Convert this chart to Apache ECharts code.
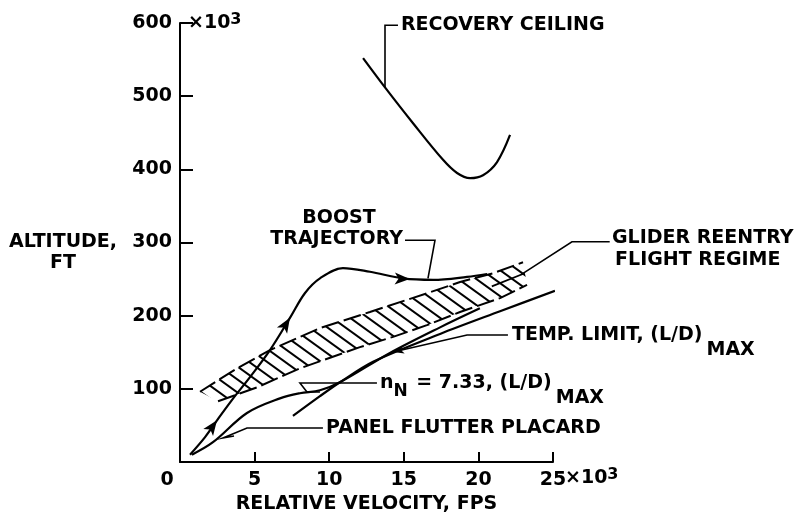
<!DOCTYPE html>
<html><head><meta charset="utf-8">
<script src="https://cdn.jsdelivr.net/npm/echarts@6/dist/echarts.min.js"></script>
<style>html,body{margin:0;padding:0;background:#fff}#c{width:808px;height:519px}</style>
</head><body><div id="c"></div>
<script>
// ---- data (x: relative velocity, 10^3 fps; y: altitude, 10^3 ft) ----
const xTicks = [0, 5, 10, 15, 20, 25];
const yTicks = [0, 100, 200, 300, 400, 500, 600];
const recoveryCeiling = [[12.27,552],[13.74,512],[15.62,463],[17.63,413],[18.57,395],[19.44,388],[20.31,392],[21.25,410],[22.12,447]];
const boostTrajectory = [[0.67,10],[1.68,34],[2.48,57],[3.49,85],[4.69,116],[6.03,153],[7.37,197],[8.38,231],[9.38,251],[10.92,265],[12.73,260],[14.95,251],[16.96,249],[19.24,253],[20.58,257]];
const boostArrows = [[2.48,57,-36],[7.37,197,-32],[15.4,250,-92]];
const nNCurve = [[0.8,10],[2.21,27],[4.49,67],[6.7,87],[8.04,94],[9.38,98],[10.72,109],[14.07,149],[17.43,184],[20.1,210]];
const tempLimit = [[7.57,63],[9.38,90],[10.72,109],[12.94,137],[17.43,175],[21.45,206],[25.13,234]];
const bandUpper = [[1.34,96],[3.82,128],[6.03,153],[9.38,183],[12.73,205],[16.76,232],[18.77,246],[20.98,258],[22.99,273]];
const bandLower = [[2.55,83],[5.16,102],[8.04,128],[12.06,157],[14.28,171],[16.55,187],[18.77,205],[21.45,224],[23.26,242]];
const bandCross = [[20.9,240],[23.1,258]];
// leader lines (annotation pointers)
const leaders = [
  [[13.74,512],[13.74,597],[14.61,597]],
  [[15.08,303],[17.09,303],[16.62,251]],
  [[28.8,301],[26.27,301],[22.86,256]],
  [[21.98,173.6],[19.24,173.6],[14.28,150.3]],
  [[13.2,108],[8.04,108],[8.51,95.7],[9.38,95.7]],
  [[9.58,46.5],[4.49,46.5],[2.88,32.8],[3.62,35.5]]
];
const tempArrow = [[14.28,150.3,103]];
// annotation texts: [x, y, text, align]
const annotations = [
  [14.81,597,'RECOVERY CEILING','left'],
  [10.66,333,'BOOST','center'],
  [14.95,305,'TRAJECTORY','right'],
  [28.95,306,'GLIDER REENTRY','left'],
  [29.16,276,'FLIGHT REGIME','left'],
  [22.25,173.6,'{t|TEMP. LIMIT, (L/D)}{s|MAX}','left'],
  [13.4,108,'{t|n}{u|N}{t| = 7.33, (L/D)}{s|MAX}','left'],
  [9.79,46.5,'PANEL FLUTTER PLACARD','left']
];
const xUnit = '{a|×10}{b|3}';

const FONT = 'DejaVu Sans';
const FS = 19;
const FW = 'bold';
const black = '#000';

const hatchCanvas = (function(){
  const W = 18, H = 13;
  const c = document.createElement('canvas'); c.width = W; c.height = H;
  const g = c.getContext('2d'); g.strokeStyle = '#000'; g.lineWidth = 2;
  for (const dx of [-W, 0, W]) { g.beginPath(); g.moveTo(dx-W,-H); g.lineTo(dx+2*W,2*H); g.stroke(); }
  return c;
})();

const bandPoly = bandUpper.concat(bandLower.slice().reverse());

function lineSeries(data, width, extra) {
  return Object.assign({type:'line', data:data, showSymbol:false, symbol:'none', clip:false, silent:true,
    lineStyle:{color:black, width:width}}, extra || {});
}
const tk = {fontFamily:FONT,fontSize:FS,fontWeight:FW,color:black};
const richBase = {
  t:Object.assign({},tk,{verticalAlign:'middle'}),
  s:Object.assign({},tk,{verticalAlign:'middle',padding:[30,0,0,4]}),
  u:Object.assign({},tk,{fontSize:FS-2,verticalAlign:'middle',padding:[18,2,0,0]}),
  a:Object.assign({},tk,{lineHeight:22}),
  b:Object.assign({},tk,{fontSize:FS-3,lineHeight:12,verticalAlign:'top'})
};

const chart = echarts.init(document.getElementById('c'), null, {renderer:'canvas'});
chart.setOption({
  animation:false,
  backgroundColor:'#fff',
  grid:{left:180,right:255,top:23,bottom:57,containLabel:false,outerBoundsMode:'none'},
  xAxis:{type:'value',min:xTicks[0],max:xTicks[xTicks.length-1],interval:5,
    axisLine:{show:true,onZero:false,lineStyle:{color:black,width:2}},
    axisTick:{show:true,inside:true,length:10,lineStyle:{color:black,width:2}},
    splitLine:{show:false},
    axisLabel:{margin:7,color:black,fontFamily:FONT,fontSize:FS,fontWeight:FW,showMaxLabel:true,showMinLabel:true,hideOverlap:false,
      formatter:function(v){ if(v===0) return '{z|0}'; return '{n|'+v+'}'; },
      rich:{
        z:Object.assign({},tk,{lineHeight:22,padding:[0,26,0,0]}),
        n:Object.assign({},tk,{lineHeight:22})
      }},
    name:'RELATIVE VELOCITY, FPS',nameLocation:'middle',nameGap:33,
    nameTextStyle:{color:black,fontFamily:FONT,fontSize:FS,fontWeight:FW}
  },
  yAxis:{type:'value',min:yTicks[0],max:yTicks[yTicks.length-1],interval:100,
    axisLine:{show:true,onZero:false,lineStyle:{color:black,width:2}},
    axisTick:{show:true,inside:true,length:13,lineStyle:{color:black,width:2}},
    splitLine:{show:false},
    axisLabel:{margin:8,color:black,fontFamily:FONT,fontSize:FS,fontWeight:FW,formatter:function(v){return v===0?'':String(v);}},
    name:xUnit,nameLocation:'end',nameGap:0,
    nameTextStyle:{align:'left',verticalAlign:'middle',padding:[0,0,0,8],rich:richBase}
  },
  graphic:[{type:'text',x:63,y:253,style:{text:'ALTITUDE,\nFT',font:FW+' '+FS+'px "'+FONT+'"',fill:black,align:'center',verticalAlign:'middle',lineHeight:21}}],
  series:[
    {type:'custom',silent:true,clip:false,data:[[bandPoly[0][0],bandPoly[0][1]]],
      renderItem:function(params, api){
        const pts = bandPoly.map(function(p){ return api.coord(p); });
        return {type:'polygon',shape:{points:pts},style:{fill:{image:hatchCanvas,repeat:'repeat'},stroke:null}};
      }, z:1},
    lineSeries(bandUpper, 2, {lineStyle:{color:black,width:2,type:[18,5]}}),
    lineSeries(bandLower, 2, {lineStyle:{color:black,width:2,type:[18,5]}}),
    lineSeries(bandCross, 1.8),
    lineSeries(recoveryCeiling, 2.2, {smooth:0.35}),
    lineSeries(boostTrajectory, 2.2, {smooth:0.35}),
    lineSeries(nNCurve, 2.2, {smooth:0.35}),
    lineSeries(tempLimit, 2.2, {smooth:0.3}),
    {type:'custom',silent:true,clip:false,data:leaders.map(function(l,i){return [l[0][0],l[0][1],i];}),
      renderItem:function(params, api){
        const pts = leaders[params.dataIndex].map(function(p){ return api.coord(p); });
        return {type:'polyline',shape:{points:pts},style:{stroke:black,lineWidth:1.6,fill:null}};
      }, z:3},
    {type:'scatter',silent:true,clip:false,symbol:'arrow',symbolSize:[9,15],itemStyle:{color:black,opacity:1},
      data:boostArrows.map(function(a){return {value:[a[0],a[1]],symbolRotate:a[2]};}), z:5},
    {type:'scatter',silent:true,clip:false,symbol:'arrow',symbolSize:[6,11],itemStyle:{color:black,opacity:1},
      data:tempArrow.map(function(a){return {value:[a[0],a[1]],symbolRotate:a[2]};}), z:5},
    {type:'scatter',silent:true,clip:false,symbolSize:0,itemStyle:{opacity:1},
      data:annotations.map(function(a){
        return {value:[a[0],a[1]],label:{show:true,position:'inside',align:a[3],verticalAlign:'middle',
          formatter:a[2],color:black,opacity:1,textBorderWidth:0,fontFamily:FONT,fontSize:FS,fontWeight:FW,rich:richBase}};
      }).concat([{value:[xTicks[xTicks.length-1],0],label:{show:true,position:'inside',align:'left',verticalAlign:'middle',
          offset:[12,16],formatter:xUnit,color:black,opacity:1,textBorderWidth:0,fontFamily:FONT,fontSize:FS,fontWeight:FW,rich:richBase}}]), z:6}
  ]
});
</script></body></html>
